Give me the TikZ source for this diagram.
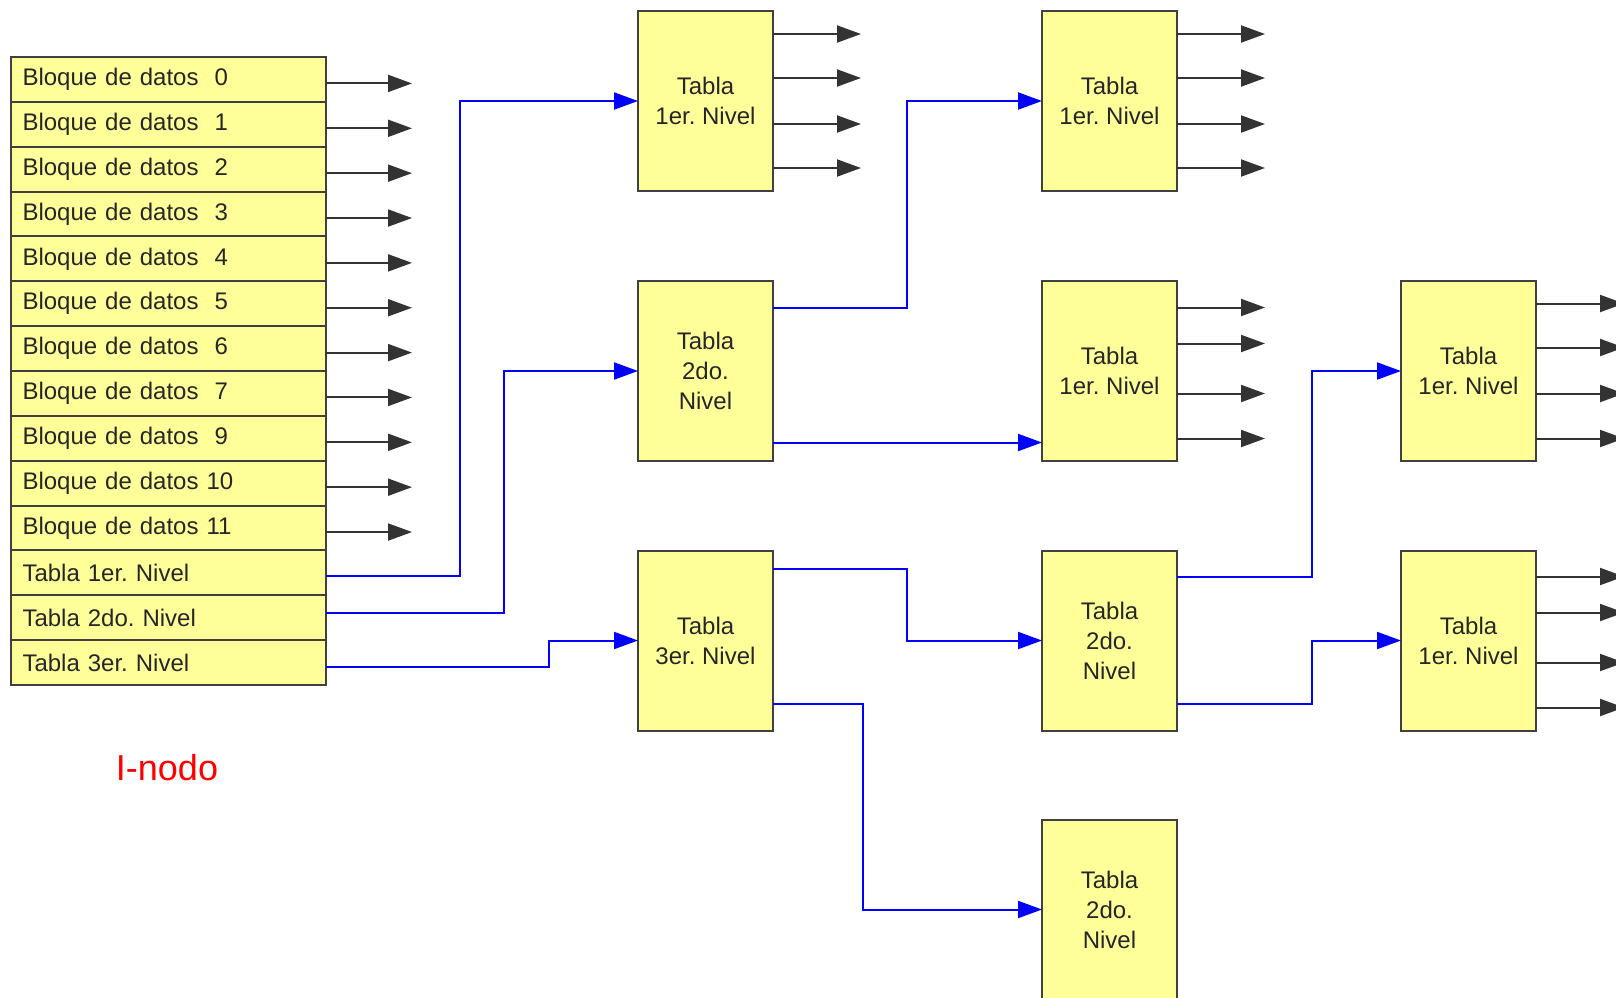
\documentclass[tikz,border=0pt]{standalone}
\usepackage{fontspec}
\setmainfont{Liberation Sans}
\usetikzlibrary{arrows.meta,positioning}
\definecolor{tabyellow}{HTML}{FFFF99}
\frenchspacing

\begin{document}
\begin{tikzpicture}[
    x=0.5pt, y=-0.5pt,
    every node/.style={font=\fontsize{12}{15}\selectfont, text=black!85},
    slot/.style={draw=black!75, line width=1pt, fill=tabyellow, anchor=north west, outer sep=0pt, minimum width=157.5pt, minimum height=22.43pt, text width=146pt, inner xsep=5.75pt, inner ysep=0pt, align=left},
    tabla/.style={draw=black!75, line width=1pt, fill=tabyellow, outer sep=0pt, minimum width=67.5pt, minimum height=90pt, align=center, inner sep=2pt},
    stub/.style={-{Triangle[length=12pt,width=8.5pt]}, line width=1pt, black!80},
    link/.style={-{Triangle[length=12pt,width=8.5pt]}, line width=1pt, blue}
]
\useasboundingbox (0,0) rectangle (1616,997);
% i-nodo
\node[slot] (r0) at (11,57) {Bloque de datos\ \ 0};
\node[slot, below=0pt of r0] (r1) {Bloque de datos\ \ 1};
\node[slot, below=0pt of r1] (r2) {Bloque de datos\ \ 2};
\node[slot, below=0pt of r2] (r3) {Bloque de datos\ \ 3};
\node[slot, below=0pt of r3] (r4) {Bloque de datos\ \ 4};
\node[slot, below=0pt of r4] (r5) {Bloque de datos\ \ 5};
\node[slot, below=0pt of r5] (r6) {Bloque de datos\ \ 6};
\node[slot, below=0pt of r6] (r7) {Bloque de datos\ \ 7};
\node[slot, below=0pt of r7] (r8) {Bloque de datos\ \ 9};
\node[slot, below=0pt of r8] (r9) {Bloque de datos 10};
\node[slot, below=0pt of r9] (r10) {Bloque de datos 11};
\node[slot, below=0pt of r10] (r11) {Tabla 1er. Nivel};
\node[slot, below=0pt of r11] (r12) {Tabla 2do. Nivel};
\node[slot, below=0pt of r12] (r13) {Tabla 3er. Nivel};
\node[text=red, font=\fontsize{18}{20}\selectfont] (inodo) at (167,768) {I-nodo};
% tablas
\node[tabla] (A) at (705.5,101) {Tabla\\1er. Nivel};
\node[tabla, below=45pt of A] (B) {Tabla\\2do.\\Nivel};
\node[tabla, below=44.75pt of B] (C) {Tabla\\3er. Nivel};
\node[tabla, right=134.5pt of A] (D) {Tabla\\1er. Nivel};
\node[tabla, right=134.5pt of B] (E) {Tabla\\1er. Nivel};
\node[tabla, right=134.5pt of C] (F) {Tabla\\2do.\\Nivel};
\node[tabla, below=44.5pt of F] (G) {Tabla\\2do.\\Nivel};
\node[tabla, right=112pt of E] (H) {Tabla\\1er. Nivel};
\node[tabla, right=112pt of F] (I) {Tabla\\1er. Nivel};
% bloques
\foreach \r in {0,...,10}
    \draw[stub] (r\r.east) ++(0,4) -- ++(86,0);
\foreach \dy in {-67,-23,23,67} {
    \draw[stub] (A.east) ++(0,\dy) -- ++(88,0);
    \draw[stub] (D.east) ++(0,\dy) -- ++(88,0);
}
\foreach \dy in {-63.5,-27.5,22.5,67.5}
    \draw[stub] (E.east) ++(0,\dy) -- ++(88,0);
\foreach \dy in {-67.5,-23.5,22.5,67.5}
    \draw[stub] (H.east) ++(0,\dy) -- ++(88,0);
\foreach \dy in {-64,-28,22,67}
    \draw[stub] (I.east) ++(0,\dy) -- ++(88,0);
% punteros
\draw[link] (r11.east) ++(0,3) -- ++(134,0) |- (A.west);
\draw[link] (r12.east) ++(0,-5) -- ++(178,0) |- (B.west);
\draw[link] (r13.east) ++(0,4) -- ++(223,0) |- (C.west);
\draw[link] (B.east) ++(0,-63.5) -- ++(134,0) |- (D.west);
\draw[link] ([yshift=-35.75pt]B.east) -- ([yshift=-35.75pt]E.west);
\draw[link] (C.east) ++(0,-72) -- ++(134,0) |- (F.west);
\draw[link] (C.east) ++(0,63) -- ++(90,0) |- (G.west);
\draw[link] (F.east) ++(0,-64) -- ++(135,0) |- (H.west);
\draw[link] (F.east) ++(0,63) -- ++(135,0) |- (I.west);
\end{tikzpicture}
\end{document}
